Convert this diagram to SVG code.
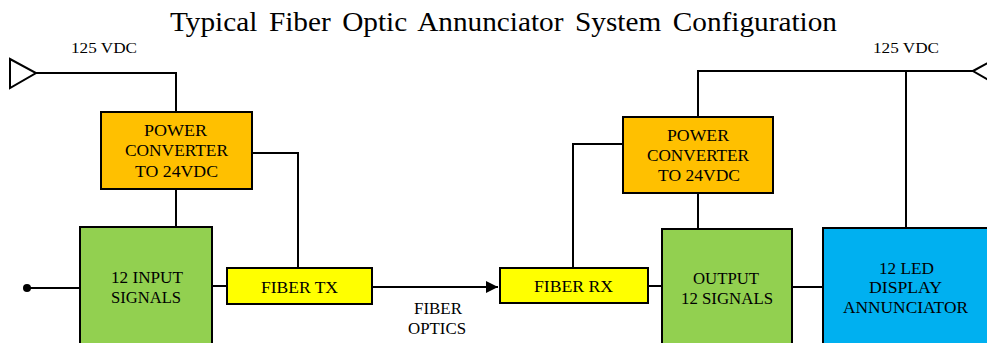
<svg xmlns="http://www.w3.org/2000/svg" width="987" height="343" viewBox="0 0 987 343">
<defs>
<style>
text{font-family:"Liberation Serif","Times New Roman",serif;fill:#000;text-anchor:middle}
.box{stroke:#000;stroke-width:2}
.lbl{font-size:16px}
.small{font-size:14px}
.w{stroke:#000;stroke-width:2;fill:none}
.pw{fill:#FFC000}.gr{fill:#92D050}.ye{fill:#FFFF00}.bl{fill:#00B0F0}
</style>
<marker id="arr" viewBox="0 0 10 10" refX="10" refY="5" markerWidth="6" markerHeight="6" orient="auto" markerUnits="strokeWidth"><path d="M0,0 L10,5 L0,10 z" fill="#000"/></marker>
</defs>
<rect width="987" height="343" fill="#fff"/>
<text x="503.5" y="31" font-size="28" word-spacing="4" textLength="667" lengthAdjust="spacingAndGlyphs">Typical Fiber Optic Annunciator System Configuration</text>
<g id="connectors">
<polygon points="10,59 36,73 10,88" fill="#fff" stroke="#000" stroke-width="2"/>
<polyline class="w" points="36,73 176,73 176,112"/>
<line class="w" x1="176" y1="189" x2="176" y2="227"/>
<polyline class="w" points="252,153 298,153 298,268"/>
<line class="w" x1="27" y1="288" x2="80" y2="288"/>
<circle cx="27" cy="288" r="4" fill="#000"/>
<line class="w" x1="212" y1="286" x2="227" y2="286"/>
<line class="w" x1="372" y1="287" x2="498" y2="287" marker-end="url(#arr)"/>
<polyline class="w" points="573,268 573,144 623,144"/>
<polyline class="w" points="973,71 698,71 698,117"/>
<line class="w" x1="906" y1="71" x2="906" y2="228"/>
<polygon points="973,71 999,57 999,86" fill="#fff" stroke="#000" stroke-width="2"/>
<line class="w" x1="698" y1="193" x2="698" y2="229"/>
<line class="w" x1="648" y1="286" x2="662" y2="286"/>
<line class="w" x1="792" y1="287" x2="823" y2="287"/>
</g>
<text x="104" y="53" class="small" textLength="66" lengthAdjust="spacingAndGlyphs">125 VDC</text>
<text x="906" y="53" class="small" textLength="66" lengthAdjust="spacingAndGlyphs">125 VDC</text>
<text x="438" y="314" class="lbl" textLength="48" lengthAdjust="spacingAndGlyphs">FIBER</text>
<text x="437" y="334" class="lbl" textLength="58" lengthAdjust="spacingAndGlyphs">OPTICS</text>
<g id="pc1">
<rect class="box pw" x="101" y="112" width="151" height="77"/>
<text class="lbl" x="175.5" y="136" textLength="63" lengthAdjust="spacingAndGlyphs">POWER</text>
<text class="lbl" x="176.5" y="156" textLength="103" lengthAdjust="spacingAndGlyphs">CONVERTER</text>
<text class="lbl" x="176.5" y="176.5" textLength="83" lengthAdjust="spacingAndGlyphs">TO 24VDC</text>
</g>
<g id="input">
<rect class="box gr" x="80" y="227" width="132" height="130"/>
<text class="lbl" x="147" y="283" textLength="72" lengthAdjust="spacingAndGlyphs">12 INPUT</text>
<text class="lbl" x="146" y="303" textLength="70" lengthAdjust="spacingAndGlyphs">SIGNALS</text>
</g>
<g id="tx">
<rect class="box ye" x="227" y="268" width="145" height="36"/>
<text class="lbl" x="299.5" y="292.5" textLength="77" lengthAdjust="spacingAndGlyphs">FIBER TX</text>
</g>
<g id="rx">
<rect class="box ye" x="500" y="268" width="148" height="35"/>
<text class="lbl" x="573.5" y="292" textLength="79" lengthAdjust="spacingAndGlyphs">FIBER RX</text>
</g>
<g id="pc2">
<rect class="box pw" x="623" y="117" width="150" height="76"/>
<text class="lbl" x="698" y="140.5" textLength="62" lengthAdjust="spacingAndGlyphs">POWER</text>
<text class="lbl" x="698" y="160.5" textLength="102" lengthAdjust="spacingAndGlyphs">CONVERTER</text>
<text class="lbl" x="699" y="180.5" textLength="82" lengthAdjust="spacingAndGlyphs">TO 24VDC</text>
</g>
<g id="output">
<rect class="box gr" x="662" y="229" width="130" height="130"/>
<text class="lbl" x="726" y="284" textLength="66" lengthAdjust="spacingAndGlyphs">OUTPUT</text>
<text class="lbl" x="727" y="304" textLength="92" lengthAdjust="spacingAndGlyphs">12 SIGNALS</text>
</g>
<g id="led">
<rect class="box bl" x="823" y="228" width="180" height="130"/>
<text class="lbl" x="906.5" y="273.5" textLength="55" lengthAdjust="spacingAndGlyphs">12 LED</text>
<text class="lbl" x="905.5" y="293" textLength="73" lengthAdjust="spacingAndGlyphs">DISPLAY</text>
<text class="lbl" x="905.5" y="313" textLength="125" lengthAdjust="spacingAndGlyphs">ANNUNCIATOR</text>
</g>
</svg>
